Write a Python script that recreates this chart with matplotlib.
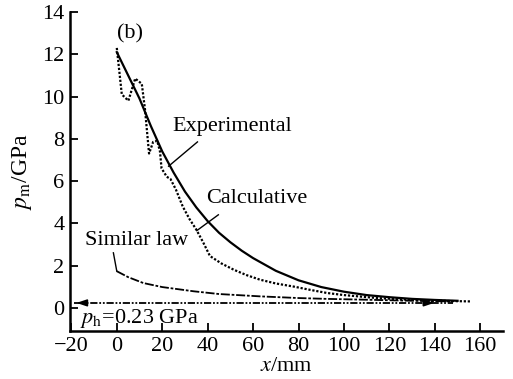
import matplotlib
matplotlib.use("Agg")
import matplotlib.pyplot as plt

plt.rcParams['font.family'] = ['Liberation Serif', 'DejaVu Serif']
plt.rcParams['mathtext.fontset'] = 'stix'

# Calculative (solid)
calc_x = [0, 5, 10, 15, 20, 25, 30, 35, 40, 45, 50, 55, 60, 70, 80, 90, 100, 110, 120, 130, 140, 150]
calc_y = [12.1, 11.0, 9.9, 8.6, 7.4, 6.4, 5.5, 4.75, 4.1, 3.55, 3.1, 2.7, 2.35, 1.75, 1.3, 0.98, 0.76, 0.6, 0.5, 0.42, 0.37, 0.33]

# Experimental (dotted)
exp_x = [0, 2.2, 5.1, 8.1, 11, 12.4, 14.2, 16, 17.8, 19, 19.7, 22, 23.6, 26, 29, 32, 35, 38, 41, 46, 51.5, 57, 63, 70, 78, 85, 92.5, 100, 114.5, 125, 136.5, 146, 156]
exp_y = [12.3, 10.1, 9.8, 10.85, 10.6, 9.4, 7.3, 7.85, 7.9, 7.4, 6.6, 6.2, 6.1, 5.6, 4.8, 4.2, 3.7, 3.1, 2.45, 2.1, 1.8, 1.55, 1.33, 1.15, 1.0, 0.85, 0.7, 0.6, 0.46, 0.4, 0.35, 0.32, 0.3]

# Similar law (dash-dot)
sim_x = [0, 5, 11.7, 20, 33.8, 45, 63, 80, 92.5, 110, 122, 135, 148]
sim_y = [1.73, 1.45, 1.17, 0.98, 0.78, 0.65, 0.54, 0.46, 0.42, 0.38, 0.35, 0.32, 0.3]

# p_h level
ph_value = 0.23
ph_x = [-19, 148]

fig = plt.figure(figsize=(5.13, 3.79), dpi=100)
ax = fig.add_axes([70/513, 48/379, (503-70)/513, (331-12)/379])

ax.plot(calc_x, calc_y, color='black', lw=1.6, linestyle='-')
ax.plot(exp_x, exp_y, color='black', lw=1.6, linestyle=(0, (1, 0.8)))
ax.plot(sim_x, sim_y, color='black', lw=1.3, linestyle=(0, (5, 1, 1.5, 1)))
ax.plot(ph_x, [ph_value, ph_value], color='black', lw=1.3, linestyle=(0, (4, 1, 1, 1, 1, 1)))

# arrow heads on p_h line
ax.annotate('', xy=(ph_x[0], ph_value), xytext=(ph_x[0] + 6, ph_value),
            arrowprops=dict(arrowstyle='-|>,head_length=0.6,head_width=0.2', color='black', lw=1.2))
ax.annotate('', xy=(141, ph_value), xytext=(134, ph_value),
            arrowprops=dict(arrowstyle='-|>,head_length=0.6,head_width=0.2', color='black', lw=1.2))

fs = 16
ax.text(24.3, 8.6, 'Experimental', fontsize=fs, va='center', ha='left')
ax.plot([35.5, 22.8], [7.85, 6.7], color='black', lw=1.0)
ax.text(39.5, 5.15, 'Calculative', fontsize=fs, va='center', ha='left')
ax.plot([44.7, 35.2], [4.4, 3.65], color='black', lw=1.0)
ax.text(-14, 3.2, 'Similar law', fontsize=fs, va='center', ha='left')
ax.plot([-1.5, 0], [2.6, 1.73], color='black', lw=1.0)
ax.text(0, 12.95, '(b)', fontsize=fs, va='center', ha='left')
ax.text(-16, -0.5, r'$p_{\rm h}$=0.23 GPa', fontsize=fs, va='center', ha='left')

ax.set_xlim(-20.6, 170)
ax.set_ylim(-1.1, 14)
ax.set_xticks(range(-20, 161, 20))
ax.set_yticks(range(0, 15, 2))
ax.set_xticklabels(['\u221220'] + [str(v) for v in range(0, 161, 20)])
ax.tick_params(direction='in', length=6, width=1.3, labelsize=fs, pad=4)
ax.spines['top'].set_visible(False)
ax.spines['right'].set_visible(False)
ax.spines['left'].set_linewidth(1.8)
ax.spines['bottom'].set_linewidth(1.8)

ax.set_xlabel(r'$x$/mm', fontsize=fs, labelpad=1)
ax.set_ylabel(r'$p_{\rm m}$/GPa', fontsize=fs + 1, labelpad=6)

fig.savefig('out.png', dpi=100)
